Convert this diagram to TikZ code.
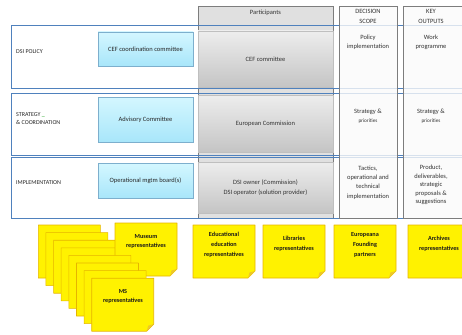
\documentclass[tikz,border=0pt]{standalone}
\usepackage{fontspec}
\setmainfont{Carlito}

\definecolor{rowblue}{RGB}{79,129,189}
\definecolor{colgray}{RGB}{125,125,125}
\definecolor{cyanlight}{RGB}{212,247,255}
\definecolor{cyandark}{RGB}{168,230,250}
\definecolor{cyanline}{RGB}{125,175,205}
\definecolor{postitfill}{RGB}{255,242,0}
\definecolor{postitline}{RGB}{230,180,0}
\definecolor{postitfold}{RGB}{238,200,40}

\tikzset{
	rowframe/.style={draw=rowblue, line width=0.9pt},
	partcol/.style={fill=black!12, draw=colgray, line width=0.6pt},
	scopecol/.style={fill=black!2, fill opacity=0.8, draw=colgray, line width=0.6pt},
	partbox/.style={top color=black!7, bottom color=black!23, draw=black!25, line width=0.4pt,
		minimum width=135pt, inner sep=0pt, font=\fontsize{6.5}{9.5}\selectfont, text=black!80, align=center},
	bodybox/.style={top color=cyanlight, bottom color=cyandark, draw=cyanline, line width=0.5pt,
		minimum width=95pt, inner sep=0pt, font=\fontsize{6.5}{9}\selectfont, text=black!85, align=center},
	txt/.style={font=\fontsize{6.5}{9.3}\selectfont, text=black!80, align=center, inner sep=0pt},
	rowlabel/.style={font=\fontsize{6}{8}\selectfont, text=black!85, align=left, anchor=west, inner sep=0pt},
	postit/.style={fill=postitfill, draw=postitline, line width=0.6pt, line join=round},
	postitcrease/.style={fill=postitfold},
	notetext/.style={font=\bfseries\fontsize{6.2}{9.8}\selectfont, text=black!90, align=center, inner sep=0pt}
}

% one sticky note, top left corner at (#1,#2)
\newcommand{\postit}[2]{%
	\filldraw[postit] (#1,#2) -- ++(62,0) -- ++(0,46) -- ++(-7,7) -- ++(-55,0) -- cycle;
	\fill[postitcrease] ({#1+62},{#2+46}) -- ({#1+55},{#2+53}) -- ({#1+56.5},{#2+47.5}) -- cycle;}

\begin{document}
\begin{tikzpicture}[x=1pt,y=-1pt]
	\useasboundingbox (0,0) rectangle (462,334);
	
	% the three layers
	\foreach \top/\bot in {25/88, 93/155, 157/218}
		\fill[white] (11,\top) rectangle (468,\bot);
	\filldraw[partcol] (198,6) rectangle (333,218);
	\foreach \top/\bot in {25/88, 93/155, 157/218}
		\draw[rowframe] (11,\top) rectangle (468,\bot);
	\filldraw[scopecol] (339,6) rectangle (397,218);
	\filldraw[scopecol] (403,6) rectangle (472,218);
	
	\node[rowlabel] (policylbl) at (16,52) {DSI POLICY};
	\node[rowlabel] (strategylbl) at (16,119) {STRATEGY \textcolor{green!60!black}{\_}\\\& COORDINATION};
	\node[rowlabel] (implbl) at (16,183) {IMPLEMENTATION};
	
	\node[bodybox, minimum height=34pt] (cefcoord) at (145.5,49) {CEF coordination committee};
	\node[bodybox, minimum height=45pt] (advisory) at (145.5,119.5) {Advisory Committee};
	\node[bodybox, minimum height=35pt] (mgtm) at (145.5,180.5) {Operational mgtm board(s)};
	
	\node[txt] (parthead) at (265.5,13) {Participants};
	\node[partbox, minimum height=56pt] (cef) at (265.5,59) {CEF committee};
	\node[partbox, minimum height=57pt] (ec) at (265.5,123.5) {European Commission};
	\node[partbox, minimum height=51pt] (dsi) at (265.5,187.5) {DSI owner (Commission)\\DSI operator (solution provider)};
	
	\node[txt] (scopehead) at (368,16.5) {DECISION\\SCOPE};
	\node[txt] (scopepol) at (368,42) {Policy\\implementation};
	\node[txt] (scopestrat) at (368,116) {Strategy \&\\{\fontsize{5.2}{6}\selectfont priorities}};
	\node[txt] (scopeimp) at (368,182.5) {Tactics,\\operational and\\technical\\implementation};
	
	\node[txt] (outhead) at (431,16.5) {KEY\\OUTPUTS};
	\node[txt] (outpol) at (431,42) {Work\\programme};
	\node[txt] (outstrat) at (431,116) {Strategy \&\\{\fontsize{5.2}{6}\selectfont priorities}};
	\node[txt, font=\fontsize{6.5}{8.6}\selectfont] (outimp) at (431,185) {Product,\\deliverables,\\strategic\\proposals \&\\suggestions};
	
	% stakeholder notes
	\foreach \i in {0,...,3}
		\postit{38.3+7.63*\i}{225+7.6*\i};
	\postit{115}{223}
	\foreach \i in {4,...,7}
		\postit{38.3+7.63*\i}{225+7.6*\i};
	\node[notetext] (museum) at (146,241.5) {Museum\\representatives};
	\node[notetext] (ms) at (123,296.5) {MS\\representatives};
	
	\postit{193}{225}
	\postit{263}{225}
	\postit{334}{225}
	\postit{408}{225}
	\node[notetext] (educ) at (224,245) {Educational\\education\\representatives};
	\node[notetext] (libs) at (294,244) {Libraries\\representatives};
	\node[notetext] (founders) at (365,245) {Europeana\\Founding\\partners};
	\node[notetext] (archives) at (439,244) {Archives\\representatives};
\end{tikzpicture}
\end{document}
